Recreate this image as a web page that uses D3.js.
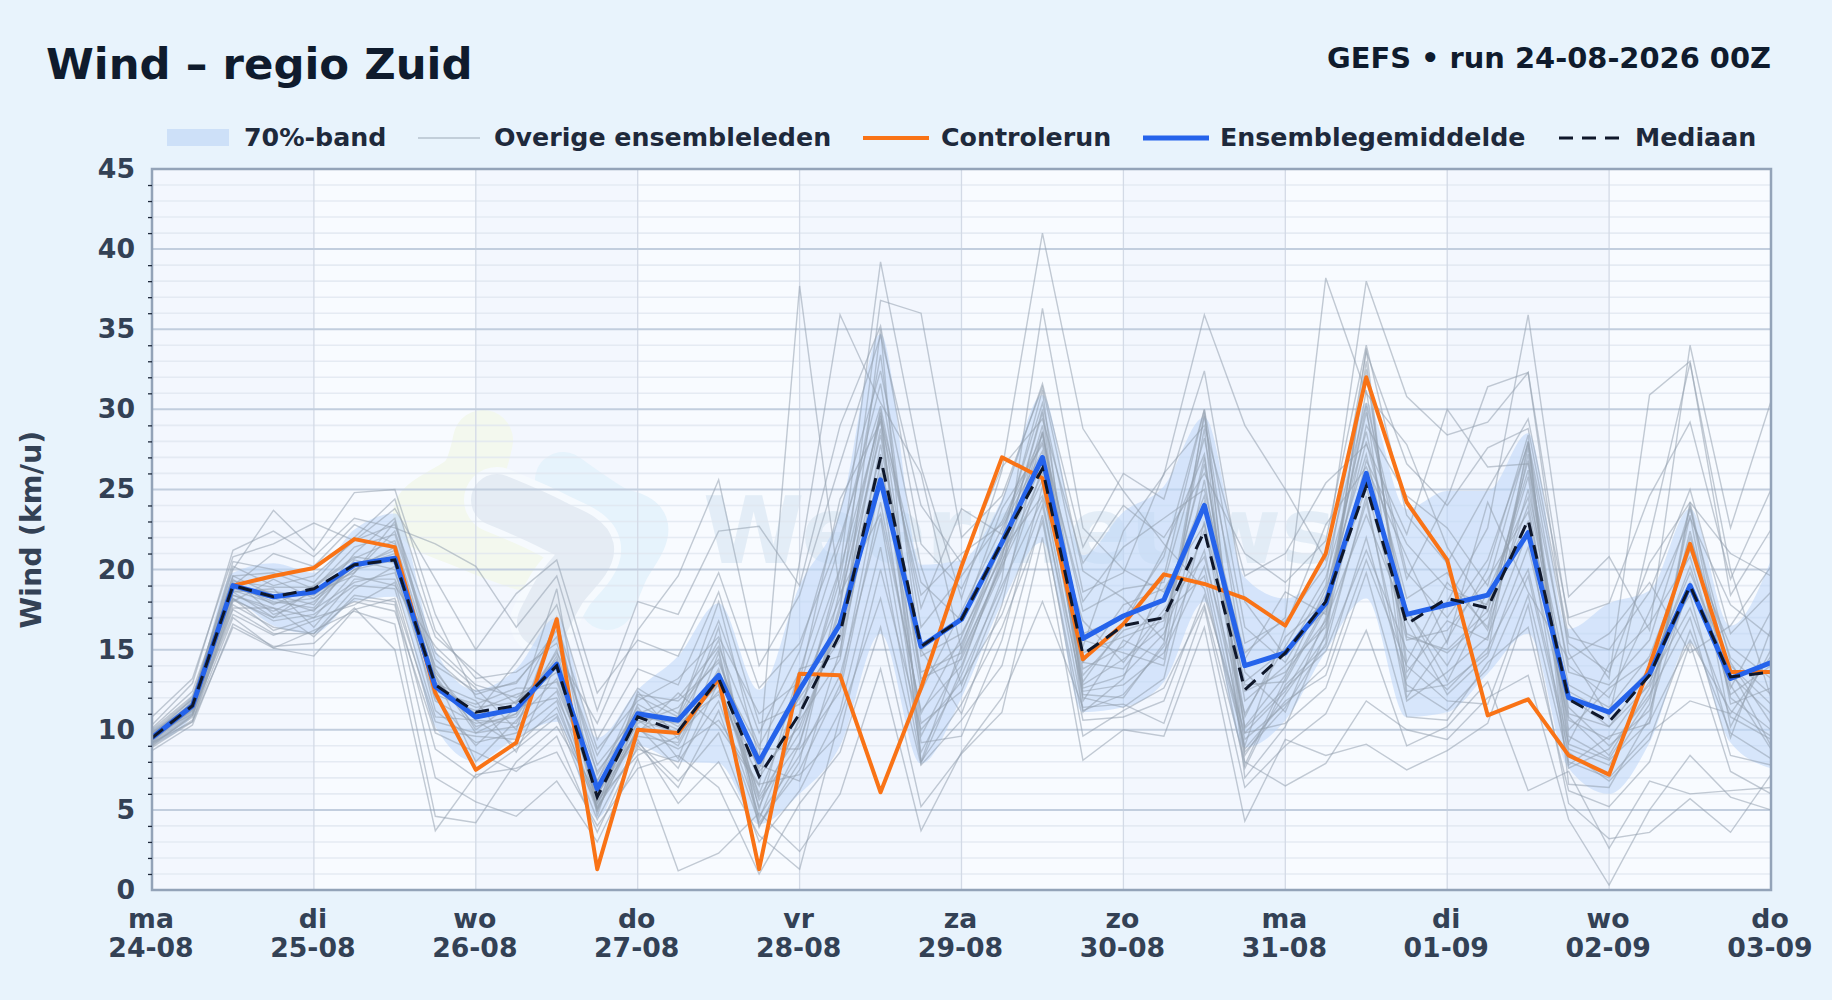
<!DOCTYPE html>
<html>
<head>
<meta charset="utf-8">
<script src="https://cdn.jsdelivr.net/npm/d3@7"></script>
<style>
  html, body { margin: 0; padding: 0; background: #e8f3fc; }
  text { font-family: "DejaVu Sans", sans-serif; font-weight: bold; }
</style>
</head>
<body>
<div id="chart"></div>
<script>
// hours since run start, one value every 6 hours
var hours = d3.range(0, 241, 6);
var dayHours = d3.range(0, 241, 24);
var dayNames = ["ma", "di", "wo", "do", "vr", "za", "zo", "ma", "di", "wo", "do"];
var dayDates = ["24-08", "25-08", "26-08", "27-08", "28-08", "29-08", "30-08", "31-08", "01-09", "02-09", "03-09"];

var control = [9.5,11.5,19,19.6,20.1,21.9,21.4,12.3,7.5,9.2, 16.9,1.3,10,9.8,13.2,1.3,13.5,13.4,6.1,12.6, 20.2,27,25.7,14.4,16.6,19.7,19.1,18.2,16.5,21, 32,24.2,20.6,10.9,11.9,8.4,7.2,14,21.6,13.6,13.6];
var mean = [9.5,11.5,19,18.3,18.6,20.3,20.7,12.7,10.8,11.3, 14.1,6.3,11,10.6,13.4,8,12.5,16.6,25.6,15.2, 16.9,21.7,27,15.7,17.1,18.1,24,14,14.8,17.9, 26,17.2,17.8,18.4,22.3,12,11.1,13.5,19,13.2,14.2];
var median = [9.5,11.5,19,18.3,18.8,20.3,20.6,12.8,11.1,11.5, 14,5.8,10.8,9.9,13.2,7.1,11,16,27,15.2, 16.9,21.7,26.3,14.7,16.5,17,22.4,12.5,14.8,18, 25.2,16.6,18.2,17.6,23.1,11.9,10.5,13.4,19,13.3,13.6];
var bandLow = [9.1,10.9,18,16.5,16,18,18.3,10.2,8,9.5, 10.5,4.5,9,8,7.9,4.1,6,9,16,7.9, 12,17.9,21.7,11.1,11.4,13,18,8.9,10.6,14.9, 18.2,10.8,11.1,13.5,16,7.6,6,9.2,15.4,9.2,7.6];
var bandHigh = [10.1,12.3,19.8,20.4,19.8,22.5,23.5,15,12.5,13.8, 17,9.5,12.5,14.6,17.9,12.5,19,23.6,34.7,20.3, 20.6,24.4,30.9,20.9,23.6,25.2,29.5,19.5,18.2,20.9, 30.4,23.8,24.9,24.9,28.5,16.3,17.9,18.7,23.8,16.5,20.6];

var m01 = [9.2,10.5,16.4,15.1,14.6,17.5,18.2,10.5,9.8,10.2, 12.4,5.1,12.1,10.8,18,8.2,37.7,18.5,23.5,11.2, 14,20.5,26,13,16.5,21.2,27.2,10.1,12.6,14.9, 21.2,15,12.5,15.1,20,9.1,8.1,10.5,15.6,11.2,9.6];
var m02 = [9.5,11.2,18.6,17,17.5,19.2,19.8,12.9,11.8,8.6, 14.2,6.4,9.8,12.3,10.2,6.5,20.5,35.9,30.4,26, 15,21.2,24.6,16.8,14.2,17.5,20.8,11,15.2,19.5, 28.6,17.4,14,18.6,24.5,12.1,10.2,12.8,22,14.5,12.2];
var m03 = [9,10.9,17.8,16.4,16,18.8,20.2,14,12.4,12.9, 16.2,7.2,11.4,8.2,14.8,3.9,9.1,17.5,36.8,36, 22,24.6,31.4,19.9,18.2,15.6,29.6,13.6,11.1,17, 32.5,14.2,19.2,16.4,27.6,10,12.6,14.4,18.4,9.5,16.3];
var m04 = [10.1,12.4,19.6,18.4,17.8,21,23.2,13.8,10,11.8, 13.6,5.6,8.4,9.6,12.4,7.6,12.8,20.1,39.2,26.4, 18.2,26.2,41,28.8,24.9,21.6,18.8,9,16.4,22.8, 26.4,20.8,15.4,24.2,18.6,14.4,16,19.2,14.8,16.5,20.2];
var m05 = [9.3,11.8,20.5,20,19.2,22,24.4,16.2,13.2,13.6, 15.4,8.4,12.6,11,16.8,9.8,14.9,23.6,32.4,20.2, 12.8,19.4,36.3,22.6,20,18.6,23.8,14.8,17,38.2, 31,27.8,21.4,17.4,25.8,9.2,14.1,16.6,20.8,12.2,14];
var m06 = [8.9,10.5,18,19.4,18.2,20.2,21,11.2,9.2,9.8, 11.8,4.9,10.2,7.6,13,5.2,10.6,14.4,27.8,15, 11,17.8,28.6,15.2,22.4,25.9,35.9,29,25,20.6, 38,30.8,28.4,29.2,32.3,16.6,13.2,30.9,33,18.4,22.5];
var m07 = [9.6,11,17.2,15.9,16.8,18,17.4,9.8,8.6,7.4, 9.6,3.6,9,6.4,11.2,4.2,7.5,12.8,25.6,9.2, 9.6,15.6,25.2,12,11.4,13.2,23,8.4,12.2,15.8, 24.2,13.2,18,22.6,35.9,18.3,20.8,16.2,34,22.6,30.5];
var m08 = [9.8,11.6,19,21,20.2,22.8,21.6,13,11,14.2, 17.8,9.4,13.8,12.8,18.6,10.4,11.6,16,29.6,19.2, 16.8,23.8,27.8,16,17,20.8,30,16.4,14.2,18.4, 29.8,19.4,24.4,31.4,32.3,14.8,10.8,22,32.9,20,12];
var m09 = [8.7,10.3,16.6,15.2,15.4,17.6,15,3.7,7.2,7.6, 8.6,4,7.6,8.4,6.4,1,5.4,8.6,16.4,5.2, 8.5,11.1,22,8.1,10,9.6,16.4,4.3,9.4,8.4, 9.1,7.5,8.7,10.4,17.8,5.4,3.2,3.6,5.7,3.6,7.2];
var m10 = [9,10.6,17,15.1,16.2,17.4,16.6,4.6,4.2,8, 10.2,6,9.4,5.4,8,3.4,1.3,10.8,18.2,7.8, 10.6,14,23.4,9.6,11.2,12.6,17.8,8,6.5,7.9, 11.8,10,9.4,12,13.4,4.4,0.3,5,8.4,5.8,5];
var m11 = [9.1,10.8,17.5,16,16,18.2,17.8,7,5.5,4.6, 6.8,3,8.2,1.2,2.3,4.8,2.4,6,13.8,3.7, 8.6,12,18,11.4,11.6,10.4,17.6,6.4,9,11, 16.2,9,10.2,13,6.2,7.4,2.6,6.8,6,6.2,6.4];
var m12 = [9.7,11.9,20,23.7,21.2,24.8,25,17.2,12,11.2, 14.8,10.4,16.2,19.6,25.6,14,18.4,26.6,34.6,24, 20.4,26.4,29.4,20.4,24,22,26,21,19.2,21.8, 34,23.4,20.4,25,29.4,17,17.9,24.6,29.2,19.4,25];
var m13 = [10.3,12.9,21.2,22.4,20.8,23.2,22.6,21.6,20.2,16.4, 19.6,11.2,18,17.2,22.4,22.7,19,29,35.2,21.6, 18.8,24.2,31.6,21.4,26,24.4,32.4,18,14.6,19, 33.6,26.6,24,27.6,28.8,15.8,15,18.6,25,16,18.6];
var m14 = [10.8,13.2,20.8,21.6,22.9,21.8,23.8,19.4,15,18.5, 20.6,12.3,15.6,14.6,19.8,12.6,15.4,22,30.2,17.6, 23.8,22.2,30.4,18.6,19.8,26,29,19.6,21,25.4, 27.8,22.2,30,26.4,26.6,14,12,17.4,23.2,17.8,15.8];
var m15 = [9.4,11.3,18.4,17.4,18.6,19.6,19,15.2,12.8,12, 13.8,7.4,10.6,9,13.6,8.8,8.8,12.4,24.2,11, 15.8,21.6,26.8,12.6,13.4,16,22.4,12.4,13.6,16.8, 23.4,16.8,12.2,14.6,21.4,10.6,9.4,13,17.6,10.8,9.4];
var m16 = [9.2,11.4,18.8,18.2,17.4,20.6,20,11.8,10.4,10.8, 14.6,5.8,11.6,10.2,12.8,6,12.2,18.2,28.4,13.6, 14.8,20.2,25.6,13.8,15.2,18.2,24.6,12.8,13,17.6, 25.2,15.6,16.2,19.4,23.6,11.4,9,11.2,19.2,13.4,11];
var m17 = [9.6,11.7,19.2,17.8,19,20.8,20.4,12.4,11.6,12.6, 12.6,6.8,12.2,11.8,14.2,7.8,6.8,15,26.6,12.4, 17.4,22.6,27.4,15.6,14.8,14,25.6,10.8,15.8,18, 28,18.2,19.8,16.2,25,12.8,11.4,14.6,21.2,15.2,13.2];
var m18 = [9.4,11.2,18.2,16.8,17.2,19,18.8,10,9.6,9.4, 11,5.2,8.8,8,11.8,4.6,8.4,13.4,23.2,8.6, 13.4,19,24.4,11.2,12.2,15.2,21.2,9.4,11.6,14, 22,12.8,11.2,13.8,19.6,8.6,6.8,9.4,16.2,9.8,8.2];
var m19 = [9.8,11.9,19.6,19.8,18.8,21.4,22.2,14.4,12.2,13, 15.8,7.8,11,12,15.2,9,13.6,21.6,31.6,16.4, 19.6,23,28.4,17.4,18.8,19.2,28.2,15.4,16.8,20.2, 30.4,19.8,17,20.6,27.8,13.6,12.8,15.6,23.8,14.2,10.4];
var m20 = [9.5,11.5,18.6,18.8,16.4,19.4,19.4,13.4,8,10.6, 13.2,6.2,9.6,9.2,13.8,5.8,9.8,17,27.2,10.4, 12.4,18.6,26.4,14.2,13.8,17.2,19.6,7.6,12.8,15.2, 24.6,11.8,13.6,15.8,22.4,7.6,8.8,12.2,17,8.4,7.8];
var m21 = [10,12.1,19.4,17.2,18,20,21.4,12,9,11.4, 12,6.6,10.8,10.4,12.2,7,11,19.4,33.4,14.6, 16,20.8,30,14.8,15.8,16.8,26.6,11.8,14,16.4, 26.8,21.6,18.8,17.8,26.2,11,10.2,13.6,20.2,12.6,17.4];
var m22 = [9.3,11.1,17.6,17.6,15.8,18.4,18,8.8,7,8.8, 10.8,4.4,9.2,6.8,9.8,3,6.2,11.2,21.4,8, 11.6,16.4,23,10.6,10.8,11.8,18.4,9.8,10.4,12.6, 19.8,10.8,10.6,14.2,16.4,6.2,5.2,8,15.4,7.4,6];
var m23 = [9.9,12,20.2,19,19.6,21.8,22.8,15.8,13.6,11.6, 16.6,8.8,11.8,13.2,15.8,11,13,24.4,29.2,18.4, 21,22.8,28,18,21.4,23.2,25,14.4,18.6,17.2, 29,24.6,22.6,19,28,15.4,13.6,20.4,24.2,21,19.6];
var m24 = [9.1,10.9,18.2,16.2,17,17.8,19.2,10.8,10.6,9, 11.4,5.4,10,8.8,10.6,6.6,7.2,9.8,20,10, 13,17.2,24,12.4,12.8,14.8,20.2,8.8,11.8,13.4, 20.6,14,11.8,11.6,18.4,8,7,9.8,11.8,11,14.6];
var m25 = [9.7,11.7,19,18,17.6,20.4,20.8,12.2,11.2,12.2, 13,6,10.4,11.4,14.4,7.4,10.2,16.6,28.8,13, 15.4,21,26.6,13.4,16.2,17,24.2,10.2,13.4,18.8, 27.2,16,14.8,17,24,10.8,8.4,12.6,18.8,13.8,9];
var m26 = [9.5,11.4,18.9,18.6,18.4,20.2,21.2,13.2,10.2,11, 14,6.8,11.2,10,13.4,8,12,15.6,26,15, 17,21.4,27,14.2,17.8,18.8,22.8,13,15,17.4, 25.8,17.6,13,18,23,12.4,11,13.8,19.8,14,11.6];
var m27 = [9.4,11.3,18.7,17.9,18.2,20,20.6,12.6,11.4,11.7, 14.4,5,10.6,9.8,13,5.6,9.2,17.8,30,13.2, 14.4,20,28.6,12.8,14.4,16.4,27,9.8,12.4,16.6, 31.2,15.8,15,17.4,26.8,9.6,8.2,12,22.4,12,10];
var m28 = [9.6,11.6,19.3,18.9,18.9,20.7,21.8,13.6,10.6,10.4, 15,5.4,11,10.6,15,4.4,10.8,20,29.4,9.6, 14.6,20.4,29,12.2,12,15.4,28.8,7,10.2,16, 33,13.6,16.8,15.6,27.2,8.8,7.8,11.6,23.4,10.2,15];
var m29 = [9.2,11,18.1,17,18.8,19.8,22.4,14.8,12.6,10, 17,5,10,10.8,15.6,5,13.8,14.6,35,8, 15.2,21.8,31.2,11.8,15.6,14.4,29.8,8.6,11.4,15.4, 33.8,12.4,12.8,14.8,28,7.8,9.6,10.4,24,11.6,12.6];
var m30 = [9.6,11.4,18.4,17.6,17,19.8,23,13.4,9.8,11, 18.8,4.6,12.4,9.4,16.4,4,8,18.8,29.8,7.9, 13.8,20.8,29.8,11.1,13.2,19.6,30,7.8,13.2,17.8, 30.2,12,15.6,20,28.4,6.6,6.4,10.8,24.2,12.8,8.8];
var members = [m01, m02, m03, m04, m05, m06, m07, m08, m09, m10, m11, m12, m13, m14, m15, m16, m17, m18, m19, m20, m21, m22, m23, m24, m25, m26, m27, m28, m29, m30];

var svgWidth = 1832;
var svgHeight = 1000;
var margin = { top: 169, right: 61, bottom: 110, left: 152 };
var width = svgWidth - margin.left - margin.right;
var height = svgHeight - margin.top - margin.bottom;

var svg = d3.select("#chart").append("svg")
  .attr("width", svgWidth)
  .attr("height", svgHeight)
  .style("display", "block");

var defs = svg.append("defs");
defs.append("clipPath").attr("id", "plotClip")
  .append("rect").attr("width", width).attr("height", height);

var chartGroup = svg.append("g")
  .attr("transform", `translate(${margin.left}, ${margin.top})`);

var xScale = d3.scaleLinear().domain([0, 240]).range([0, width]);
var yScale = d3.scaleLinear().domain([0, 45]).range([height, 0]);

// plot background, every other day slightly darker
chartGroup.append("rect")
  .attr("width", width)
  .attr("height", height)
  .attr("fill", "#f8fbff");

chartGroup.selectAll(".dayShade")
  .data(dayHours.slice(0, 10).filter((d, i) => i % 2 === 0))
  .enter()
  .append("rect")
  .attr("class", "dayShade")
  .attr("x", d => xScale(d))
  .attr("width", d => xScale(d + 24) - xScale(d))
  .attr("height", height)
  .attr("fill", "#e8f0fb")
  .attr("opacity", 0.3);

// faint watermark under the grid: logo of thick rounded strokes, then the name
var markGroup = chartGroup.append("g")
  .attr("transform", `translate(${-margin.left}, ${-margin.top})`);
var logoLine = d3.line().curve(d3.curveCatmullRom);
function blob(points, color, size) {
  markGroup.append("path")
    .attr("d", logoLine(points))
    .attr("fill", "none")
    .attr("stroke", color)
    .attr("stroke-width", size)
    .attr("stroke-linecap", "round")
    .attr("stroke-linejoin", "round");
}
var darkBlob = [[497,500],[553,525],[588,548],[560,590],[543,622]];
blob([[483,440],[470,478],[423,515],[470,540],[522,560]], "#f3f8ee", 60);
blob([[563,480],[610,512],[640,527],[620,570],[607,602]], "#e6f3fc", 56);
blob(darkBlob, "#f6fafe", 66);
blob(darkBlob, "#e5ecf4", 52);

markGroup.append("text")
  .attr("x", 703)
  .attr("y", 563)
  .attr("font-size", 92)
  .attr("fill", "#dbe8f4")
  .attr("opacity", 0.7)
  .text("Weernieuws");

// grid
chartGroup.selectAll(".minorGrid")
  .data(d3.range(1, 45).filter(d => d % 5 !== 0))
  .enter()
  .append("line")
  .attr("class", "minorGrid")
  .attr("x2", width)
  .attr("y1", d => yScale(d))
  .attr("y2", d => yScale(d))
  .attr("stroke", "#dfe6ef")
  .attr("stroke-opacity", 0.75)
  .attr("stroke-width", 1.6);

chartGroup.selectAll(".dayGrid")
  .data(dayHours.slice(1, 10))
  .enter()
  .append("line")
  .attr("class", "dayGrid")
  .attr("x1", d => xScale(d))
  .attr("x2", d => xScale(d))
  .attr("y2", height)
  .attr("stroke", "#d3dae6")
  .attr("stroke-width", 1.3);

chartGroup.selectAll(".majorGrid")
  .data(d3.range(5, 45, 5))
  .enter()
  .append("line")
  .attr("class", "majorGrid")
  .attr("x2", width)
  .attr("y1", d => yScale(d))
  .attr("y2", d => yScale(d))
  .attr("stroke", "#c2cede")
  .attr("stroke-width", 2);

var plotGroup = chartGroup.append("g").attr("clip-path", "url(#plotClip)");

// 70% band
var bandArea = d3.area()
  .x((d, i) => xScale(hours[i]))
  .y0((d, i) => yScale(bandLow[i]))
  .y1((d, i) => yScale(bandHigh[i]))
  .curve(d3.curveMonotoneX);

plotGroup.append("path")
  .attr("d", bandArea(hours))
  .attr("fill", "#bcd6f7")
  .attr("opacity", 0.55);

var valueLine = d3.line()
  .x((d, i) => xScale(hours[i]))
  .y(d => yScale(d));

plotGroup.selectAll(".member")
  .data(members)
  .enter()
  .append("path")
  .attr("class", "member")
  .attr("d", valueLine)
  .attr("fill", "none")
  .attr("stroke", "#94a0ae")
  .attr("stroke-opacity", 0.55)
  .attr("stroke-width", 1.4);

plotGroup.append("path")
  .attr("d", valueLine(control))
  .attr("fill", "none")
  .attr("stroke", "#f97316")
  .attr("stroke-width", 4)
  .attr("stroke-linejoin", "round");

plotGroup.append("path")
  .attr("d", valueLine(mean))
  .attr("fill", "none")
  .attr("stroke", "#2563eb")
  .attr("stroke-width", 5)
  .attr("stroke-linejoin", "round");

plotGroup.append("path")
  .attr("d", valueLine(median))
  .attr("fill", "none")
  .attr("stroke", "#0f172a")
  .attr("stroke-width", 3)
  .attr("stroke-dasharray", "14,9");

// frame
chartGroup.append("rect")
  .attr("width", width)
  .attr("height", height)
  .attr("fill", "none")
  .attr("stroke", "#93a3b8")
  .attr("stroke-width", 2.5);

// axes
var leftAxis = d3.axisLeft(yScale).tickValues(d3.range(0, 46, 5)).tickSize(0).tickPadding(17);
var minorAxis = d3.axisLeft(yScale).tickValues(d3.range(1, 45).filter(d => d % 5 !== 0)).tickSize(4).tickFormat("");
var bottomAxis = d3.axisBottom(xScale).tickValues(dayHours).tickSize(0).tickFormat("");

var minorGroup = chartGroup.append("g").call(minorAxis);
minorGroup.select(".domain").remove();
minorGroup.selectAll("line").attr("stroke", "#1e293b").attr("stroke-width", 1.3);

var yAxisGroup = chartGroup.append("g").call(leftAxis);
yAxisGroup.select(".domain").remove();
yAxisGroup.selectAll("text")
  .attr("font-size", 26.7)
  .attr("font-family", "DejaVu Sans")
  .attr("fill", "#334155");

var xAxisGroup = chartGroup.append("g")
  .attr("transform", `translate(0, ${height})`)
  .call(bottomAxis);
xAxisGroup.select(".domain").remove();
xAxisGroup.selectAll(".tick").each(function(d, i) {
  var label = d3.select(this).select("text")
    .attr("font-size", 26.7)
    .attr("font-family", "DejaVu Sans")
    .attr("fill", "#334155")
    .attr("y", 0)
    .attr("dy", null);
  label.append("tspan").attr("x", -1.5).attr("y", 38).text(dayNames[i]);
  label.append("tspan").attr("x", -1.5).attr("y", 67).text(dayDates[i]);
});

svg.append("text")
  .attr("transform", `translate(41, ${margin.top + height / 2}) rotate(-90)`)
  .attr("text-anchor", "middle")
  .attr("font-size", 28.6)
  .attr("fill", "#334155")
  .text("Wind (km/u)");

// titles
svg.append("text")
  .attr("x", 46)
  .attr("y", 79)
  .attr("font-size", 43.4)
  .attr("fill", "#0f1b2d")
  .text("Wind – regio Zuid");

svg.append("text")
  .attr("x", 1771)
  .attr("y", 68)
  .attr("text-anchor", "end")
  .attr("font-size", 28.9)
  .attr("fill", "#0f1b2d")
  .text("GEFS • run 24-08-2026 00Z");

// legend
var legendY = 138;
var legendText = ["70%-band", "Overige ensembleleden", "Controlerun", "Ensemblegemiddelde", "Mediaan"];
var legendTextX = [244, 494, 941, 1220, 1635];

svg.append("rect")
  .attr("x", 167).attr("y", 129).attr("width", 62).attr("height", 17)
  .attr("fill", "#cde0f8");
svg.append("line")
  .attr("x1", 418).attr("x2", 480).attr("y1", legendY).attr("y2", legendY)
  .attr("stroke", "#94a0ae").attr("stroke-opacity", 0.6).attr("stroke-width", 1.5);
svg.append("line")
  .attr("x1", 863).attr("x2", 929).attr("y1", legendY).attr("y2", legendY)
  .attr("stroke", "#f97316").attr("stroke-width", 4);
svg.append("line")
  .attr("x1", 1143).attr("x2", 1209).attr("y1", legendY).attr("y2", legendY)
  .attr("stroke", "#2563eb").attr("stroke-width", 5);
svg.append("line")
  .attr("x1", 1559).attr("x2", 1621).attr("y1", legendY).attr("y2", legendY)
  .attr("stroke", "#0f172a").attr("stroke-width", 3).attr("stroke-dasharray", "14,9");

svg.selectAll(".legendLabel")
  .data(legendText)
  .enter()
  .append("text")
  .attr("class", "legendLabel")
  .attr("x", (d, i) => legendTextX[i])
  .attr("y", 146)
  .attr("font-size", 25.3)
  .attr("fill", "#1e293b")
  .text(d => d);
</script>
</body>
</html>
